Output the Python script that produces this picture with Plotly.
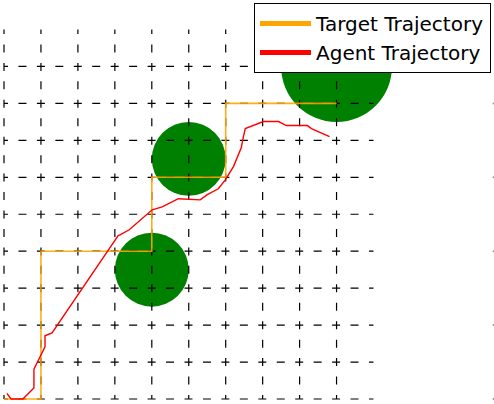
import plotly.graph_objects as go

# grid (cell size 1, 10 x 10)
grid_x = [0, 1, 2, 3, 4, 5, 6, 7, 8, 9]
grid_y = [0, 1, 2, 3, 4, 5, 6, 7, 8, 9]
grid_end = 10

# obstacles: centre x, centre y, radius
obs_x = [4, 5, 9]
obs_y = [3.5, 6.5, 9]
obs_r = [1, 1, 1.5]

# target trajectory
target_x = [0, 1, 1, 4, 4, 6, 6, 9]
target_y = [0, 0, 4, 4, 6, 6, 8, 8]

# agent trajectory
agent_x = [0.08, 0.11, 0.19, 0.51, 0.81, 0.81, 1.11, 1.11, 1.30, 3.09, 3.14, 3.39, 4.01, 4.28,
           4.72, 5.31, 5.50, 5.80, 5.99, 6.21, 6.42, 6.48, 6.53, 7.02, 7.43, 7.64, 8.21, 8.32, 8.81]
agent_y = [0.15, 0.11, 0.0, 0.0, 0.30, 0.81, 1.41, 1.71, 1.79, 4.42, 4.44, 4.58, 5.12, 5.20,
           5.42, 5.39, 5.53, 5.69, 5.93, 6.29, 6.80, 7.10, 7.32, 7.51, 7.51, 7.40, 7.40, 7.32, 7.10]

# little ticks on the right edge
tick_y = [0, 2, 4, 6, 8]

W, H = 494, 404
px = 36.95  # pixels per unit
x0_px, y0_px = 4, 399

fig = go.Figure()

for r_x, r_y, r in zip(obs_x, obs_y, obs_r):
    fig.add_shape(type="circle", xref="x", yref="y",
                  x0=r_x - r, x1=r_x + r, y0=r_y - r, y1=r_y + r,
                  fillcolor="green", line=dict(width=0), layer="below")

dash = "4px,10.45px,4px,0px"
for gx in grid_x:
    fig.add_trace(go.Scatter(x=[gx, gx], y=[0, grid_end], mode="lines",
                             line=dict(color="black", width=1.2, dash=dash),
                             showlegend=False, hoverinfo="skip"))
for gy in grid_y:
    fig.add_trace(go.Scatter(x=[0, grid_end], y=[gy, gy], mode="lines",
                             line=dict(color="black", width=1.2, dash=dash),
                             showlegend=False, hoverinfo="skip"))

fig.add_trace(go.Scatter(x=target_x, y=target_y, mode="lines",
                         line=dict(color="rgba(255,165,0,0.9)", width=1.6),
                         showlegend=False))
fig.add_trace(go.Scatter(x=agent_x, y=agent_y, mode="lines",
                         line=dict(color="red", width=1.4),
                         showlegend=False))

fig.add_trace(go.Scatter(x=[13.25] * len(tick_y), y=tick_y, mode="markers",
                         marker=dict(color="#999999", size=2),
                         showlegend=False, hoverinfo="skip"))

# legend entries with thick lines
fig.add_trace(go.Scatter(x=[None], y=[None], mode="lines",
                         line=dict(color="orange", width=5), name="Target Trajectory"))
fig.add_trace(go.Scatter(x=[None], y=[None], mode="lines",
                         line=dict(color="red", width=5), name="Agent Trajectory"))

fig.update_xaxes(range=[-x0_px / px, (W - x0_px) / px], visible=False)
fig.update_yaxes(range=[(y0_px - H) / px, y0_px / px], visible=False)

fig.update_layout(
    width=W, height=H,
    margin=dict(l=0, r=0, t=0, b=0),
    plot_bgcolor="white", paper_bgcolor="white",
    legend=dict(x=491 / W, y=1 - 3 / H, xanchor="right", yanchor="top",
                font=dict(family="DejaVu Sans", size=20, color="black"),
                bordercolor="black", borderwidth=1, bgcolor="white",
                itemwidth=51),
)

# drop the page's default body margin so the figure sits at the window corner
fig.write_html("out.html", config={"displayModeBar": False},
               post_script="document.body.style.margin='0';")
